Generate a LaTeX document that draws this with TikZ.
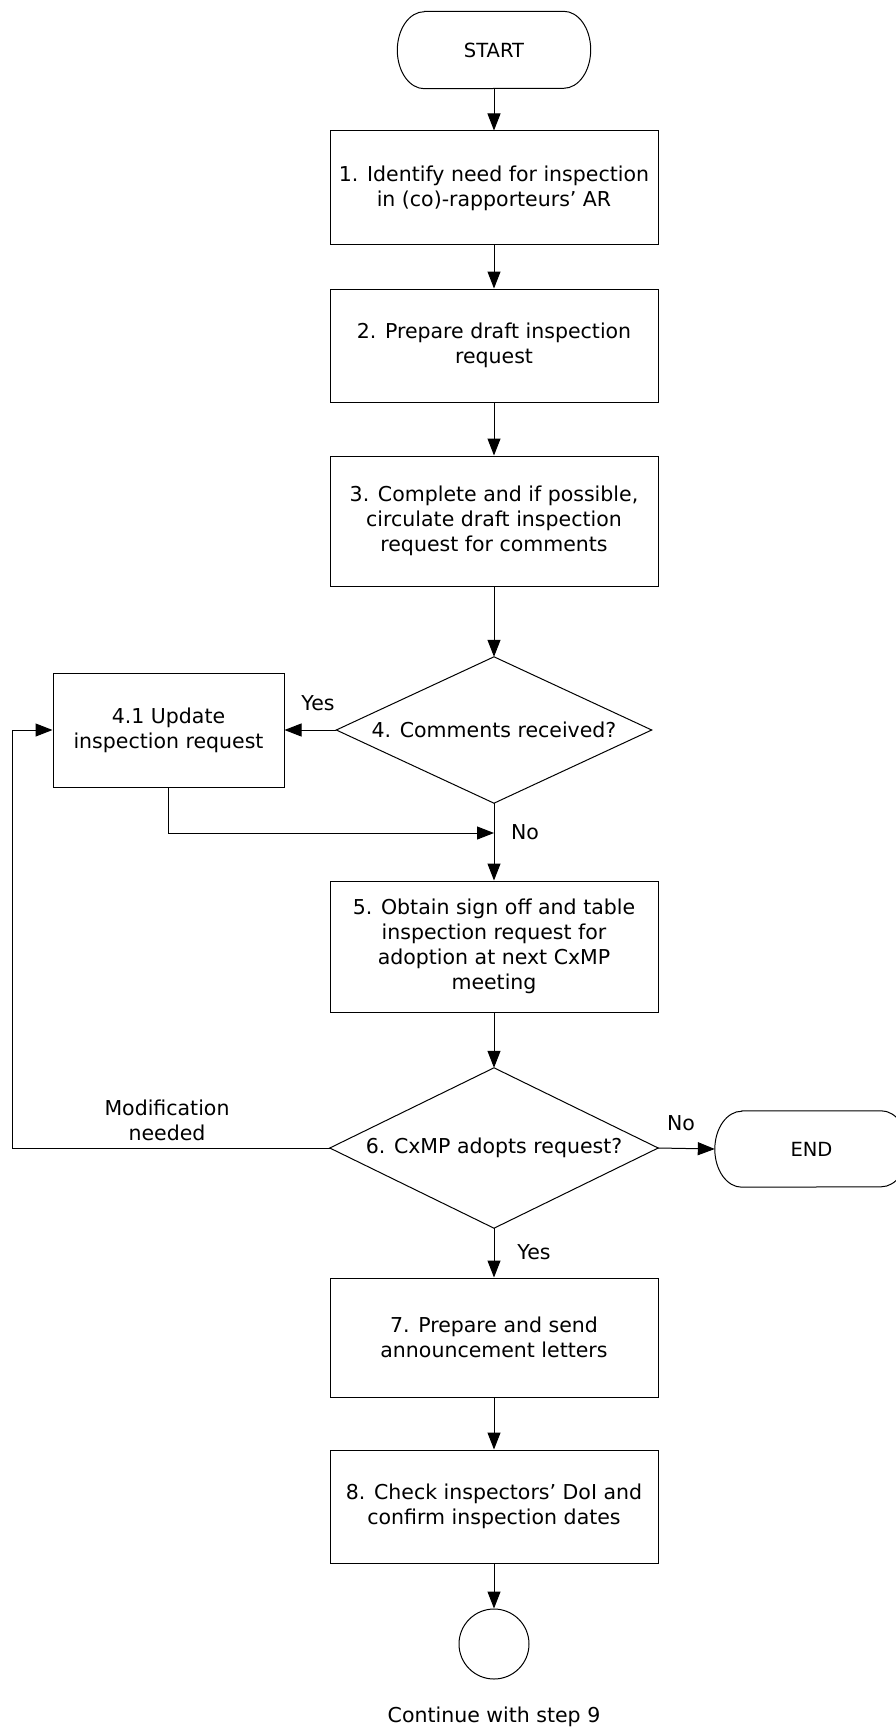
\documentclass[tikz,border=0pt]{standalone}
\usepackage{fontspec}
\setmainfont{DejaVu Sans}
\usetikzlibrary{arrows.meta}
\begin{document}
\begin{tikzpicture}[x=1pt,y=-1pt,
  every node/.style={font=\fontsize{20.5}{25}\selectfont},
  box/.style={draw, line width=1pt, minimum width=328pt, align=center, inner sep=0pt},
  shp/.style={draw=none, inner sep=0pt, align=center},
  termtext/.style={font=\fontsize{19.5}{23}\selectfont},
  arr/.style={-{Triangle[length=17pt,width=13pt]}, line width=1pt},
  ln/.style={line width=1pt},
  lbl/.style={inner sep=0pt, align=center}]
\fill[white] (0,0) rectangle (896,1728);
\useasboundingbox (0,0) rectangle (896,1728);

% nodes
\node[shp, termtext, minimum width=193pt, minimum height=77pt] (start) at (494,50) {START};
\node[box, minimum height=114pt] (b1) at (494,188) {1. Identify need for inspection\\in (co)-rapporteurs’ AR};
\node[box, minimum height=113pt] (b2) at (494,345.5) {2. Prepare draft inspection\\request};
\node[box, minimum height=130pt] (b3) at (494,521) {3. Complete and if possible,\\circulate draft inspection\\request for comments};
\node[shp, minimum width=315pt, minimum height=146pt] (d4) at (494,730) {4. Comments received?};
\node[box, minimum width=231pt, minimum height=114pt] (u41) at (168.5,730) {4.1 Update\\inspection request};
\node[box, minimum height=131pt] (b5) at (494,946.5) {5. Obtain sign off and table\\inspection request for\\adoption at next CxMP\\meeting};
\node[shp, minimum width=328pt, minimum height=160pt] (d6) at (494,1148) {6. CxMP adopts request?};
\node[shp, termtext, minimum width=193pt, minimum height=76pt] (end) at (811.5,1149) {END};
\node[box, minimum height=119pt] (b7) at (494,1337.5) {7. Prepare and send\\announcement letters};
\node[box, minimum height=113pt] (b8) at (494,1506.5) {8. Check inspectors’ DoI and\\confirm inspection dates};
\node[draw, circle, minimum size=70pt, line width=1pt, inner sep=0pt] (c9) at (494,1644) {};
\node[lbl] (cont) at (494,1717) {Continue with step 9};

% shapes drawn around the shape nodes
\draw[ln] ([xshift=27pt]start.north west) -- ([xshift=-27pt]start.north east)
  arc[start angle=90,end angle=-90,x radius=27pt,y radius=38.5pt]
  -- ([xshift=27pt]start.south west)
  arc[start angle=270,end angle=90,x radius=27pt,y radius=38.5pt] -- cycle;
\draw[ln] ([xshift=27pt]end.north west) -- ([xshift=-27pt]end.north east)
  arc[start angle=90,end angle=-90,x radius=27pt,y radius=38pt]
  -- ([xshift=27pt]end.south west)
  arc[start angle=270,end angle=90,x radius=27pt,y radius=38pt] -- cycle;
\draw[ln] (d4.north) -- (d4.east) -- (d4.south) -- (d4.west) -- cycle;
\draw[ln] (d6.north) -- (d6.east) -- (d6.south) -- (d6.west) -- cycle;

% labels
\node[lbl] (yes4) at (318,703) {Yes};
\node[lbl] (no4) at (525,832) {No};
\node[lbl] (mod) at (167,1120) {Modification\\needed};
\node[lbl] (no6) at (681,1123) {No};
\node[lbl] (yes6) at (534,1252) {Yes};

% connectors
\coordinate (j41) at (494,833);
\coordinate (lb) at (12,1148);
\draw[arr] (start.south) -- (b1.north);
\draw[arr] (b1.south) -- (b2.north);
\draw[arr] (b2.south) -- (b3.north);
\draw[arr] (b3.south) -- (d4.north);
\draw[arr] (d4.west) -- (u41.east);
\draw[arr] (d4.south) -- (b5.north);
\draw[arr] (u41.south) |- (j41);
\draw[arr] (b5.south) -- (d6.north);
\draw[arr] (d6.east) -- (end.west);
\draw[arr] (d6.west) -- (lb) |- (u41.west);
\draw[arr] (d6.south) -- (b7.north);
\draw[arr] (b7.south) -- (b8.north);
\draw[arr] (b8.south) -- (c9.north);
\end{tikzpicture}
\end{document}
